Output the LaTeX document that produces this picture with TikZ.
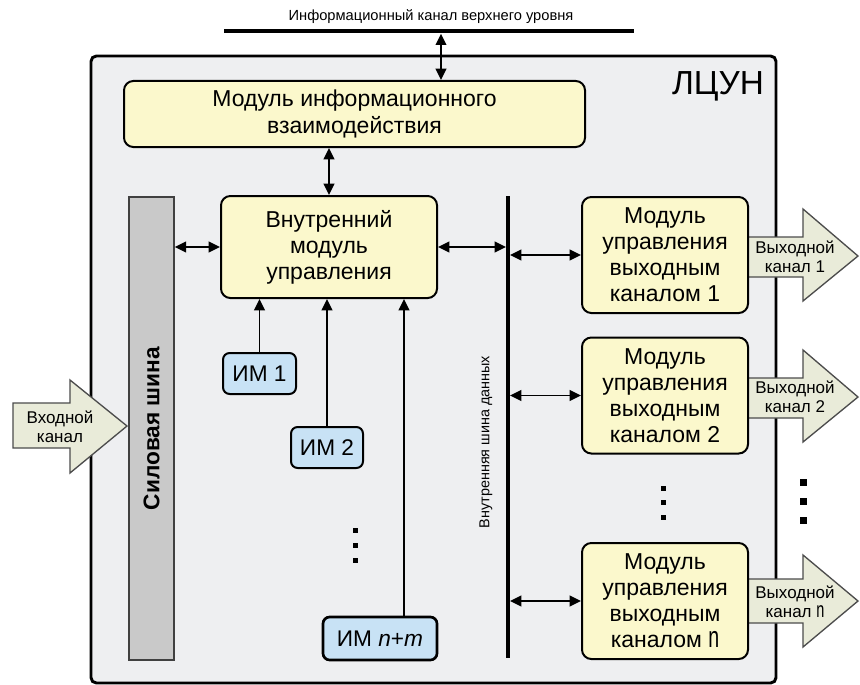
\documentclass[tikz,border=0pt]{standalone}
\usepackage{fontspec}
\usepackage{graphicx}
\setmainfont{Liberation Sans}
\usetikzlibrary{arrows.meta,calc}
\definecolor{boxbg}{HTML}{EEEFF1}
\definecolor{modfill}{HTML}{FBF8CC}
\definecolor{imfill}{HTML}{C8E2F5}
\definecolor{arrfill}{HTML}{E9EBD9}
\definecolor{barfill}{HTML}{C9C9C9}
\newcommand{\tn}{\scalebox{0.85}[1.3]{n}}
\begin{document}
\begin{tikzpicture}[x=0.75pt,y=-0.75pt,
 module/.style={draw=black, line width=1.5pt, fill=modfill, rounded corners=7pt, align=center, inner sep=0pt, font=\fontsize{17.25}{19.5}\selectfont},
 imbox/.style={draw=black, line width=1.5pt, fill=imfill, rounded corners=5pt, inner sep=0pt, font=\fontsize{17}{19}\selectfont},
 link/.style={line width=1.4pt, {Triangle[length=8.5pt,width=8pt]}-{Triangle[length=8.5pt,width=8pt]}},
 feed/.style={line width=1.4pt, -{Triangle[length=8.5pt,width=8pt]}},
 blockarrow/.style={draw=black!70, line width=1pt, fill=arrfill, line join=miter},
 chtext/.style={align=center, font=\fontsize{12.75}{14.25}\selectfont, inner sep=0pt},
 dotsq/.style={fill=black}
]
\useasboundingbox (0,0) rectangle (860,685);

% outer box
\node[draw=black, line width=2.2pt, fill=boxbg, rounded corners=4pt, minimum width=513.75pt, minimum height=470.25pt, inner sep=0pt] (lcun) at (433.5,369.5) {};
\node[font=\fontsize{25}{28}\selectfont, inner sep=0pt] (lcunlabel) at (718,86) {ЛЦУН};

% top channel
\coordinate (topL) at (224,31);
\coordinate (topR) at (634,31);
\draw[line width=3.5pt] (topL) -- (topR);
\node[font=\fontsize{11}{12}\selectfont, inner sep=0pt] (toplabel) at (431,17) {Информационный канал верхнего уровня};
\coordinate (topA) at (441,31);

% output block arrows
\draw[blockarrow] (748,237) -- (803,237) -- (803,209) -- (858,256) -- (803,301) -- (803,277) -- (748,277) -- cycle;
\draw[blockarrow] (748,378) -- (803,378) -- (803,350) -- (858,397) -- (803,442) -- (803,418) -- (748,418) -- cycle;
\draw[blockarrow] (748,579) -- (803,579) -- (803,555) -- (858,601) -- (803,647) -- (803,623) -- (748,623) -- cycle;
% input block arrow
\draw[blockarrow] (13,403) -- (70,403) -- (70,380) -- (127,426) -- (70,473) -- (70,448) -- (13,448) -- cycle;

% modules
\node[module, minimum width=345.75pt, minimum height=49.5pt, font=\fontsize{17.25}{20}\selectfont] (info) at (354.5,114) {Модуль информационного\\взаимодействия};
\node[module, minimum width=162pt, minimum height=76.5pt] (ctrl) at (329,247) {Внутренний\\модуль\\управления};
\node[module, minimum width=124.5pt, minimum height=87pt] (out1) at (665,255) {Модуль\\управления\\выходным\\каналом 1};
\node[module, minimum width=124.5pt, minimum height=87pt] (out2) at (665,395.5) {Модуль\\управления\\выходным\\каналом 2};
\node[module, minimum width=124.5pt, minimum height=87pt] (outn) at (665,601) {Модуль\\управления\\выходным\\каналом \tn};

% power bus
\node[draw=black!75, line width=1.2pt, fill=barfill, minimum width=33.75pt, minimum height=347.25pt, inner sep=0pt] (bar) at (151.5,428.5) {};
\node[rotate=90, font=\bfseries\fontsize{17}{19}\selectfont, inner sep=0pt] (barlabel) at (bar.center) {Силовая шина};

% internal data bus
\coordinate (busT) at (508,196);
\coordinate (busB) at (508,658);
\draw[line width=3pt] (busT) -- (busB);
\node[rotate=90, font=\fontsize{10.8}{12}\selectfont, inner sep=0pt] (buslabel) at (486,442) {Внутренняя шина данных};

% IM boxes
\node[imbox, minimum width=54.75pt, minimum height=30.75pt] (im1) at (259.5,373.5) {ИМ 1};
\node[imbox, minimum width=54pt, minimum height=30.75pt] (im2) at (327,447.5) {ИМ 2};
\node[imbox, line width=2pt, minimum width=85.5pt, minimum height=32.25pt] (imN) at (380,638.5) {ИМ \textit{n}+\textit{m}};
\coordinate (imNtap) at ($(imN.north)+(24,0)$);

% connectors
\draw[link, shorten <=2pt] (topA) -- (topA |- info.north);
\draw[link] (ctrl.north) -- (ctrl.north |- info.south);
\draw[link] (bar.east |- ctrl.west) -- (ctrl.west);
\draw[link, shorten >=1.5pt] (ctrl.east) -- (ctrl.east -| busT);
\draw[link, shorten <=1.5pt] (out1.west -| busT) -- (out1.west);
\draw[link, shorten <=1.5pt] (out2.west -| busT) -- (out2.west);
\draw[link, shorten <=1.5pt] (outn.west -| busT) -- (outn.west);
\draw[feed] (im1.north) -- (im1.north |- ctrl.south);
\draw[feed] (im2.north) -- (im2.north |- ctrl.south);
\draw[feed] (imNtap) -- (imNtap |- ctrl.south);

% channel texts
\node[chtext] (ch1) at (795,257) {Выходной\\канал 1};
\node[chtext] (ch2) at (795,397) {Выходной\\канал 2};
\node[chtext] (chn) at (795,602) {Выходной\\канал \tn};
\node[chtext] (chin) at (60,427) {Входной\\канал};

% dots
\foreach \y in {530,545,560} \fill[dotsq] (352.5,\y-2.5) rectangle (357.5,\y+2.5);
\foreach \y in {488,502,517} \fill[dotsq] (660.5,\y-2.5) rectangle (665.5,\y+2.5);
\foreach \y in {482,501,520} \fill[dotsq] (799.5,\y-3.5) rectangle (806.5,\y+3.5);
\end{tikzpicture}
\end{document}
